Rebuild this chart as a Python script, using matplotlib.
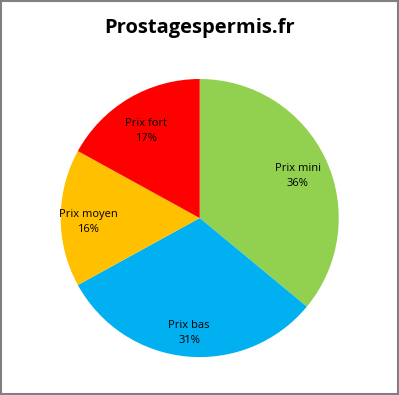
import numpy as np
import matplotlib
matplotlib.use("Agg")
import matplotlib.pyplot as plt
from matplotlib.patches import Rectangle

labels = ["Prix mini", "Prix bas", "Prix moyen", "Prix fort"]
shares = [36, 31, 16, 17]
colors = ["#92D050", "#00B0F0", "#FFC000", "#FF0000"]
label_dist = [0.78, 0.80, 0.80, 0.76]

fig = plt.figure(figsize=(3.99, 3.95), dpi=100)
fig.patch.set_facecolor("white")
fig.patches.append(Rectangle((0.002, 0.002), 0.995, 0.995, transform=fig.transFigure,
                             fill=False, edgecolor="#808080", linewidth=1.5))

fig.text(0.5, 0.93, "Prostagespermis.fr", ha="center", va="center",
         fontsize=14.5, weight="bold", family="Open Sans")

ax = fig.add_axes([0.152, 0.096, 0.697, 0.704])
wedges, _ = ax.pie(shares, colors=colors, startangle=90, counterclock=False,
                   wedgeprops=dict(linewidth=0))
ax.set_xlim(-1, 1)
ax.set_ylim(-1, 1)
ax.set_aspect("equal")

# Excel puts the labels a bit below the wedge's middle line
for w, lab, val, d in zip(wedges, labels, shares, label_dist):
    ang = np.deg2rad((w.theta1 + w.theta2) / 2)
    ax.text(d * np.cos(ang), d * np.sin(ang) - 0.03, f"{lab}\n{val}%", ha="center", va="center",
            fontsize=8, family="Open Sans", linespacing=1.45)

fig.savefig("out.png", dpi=100)
